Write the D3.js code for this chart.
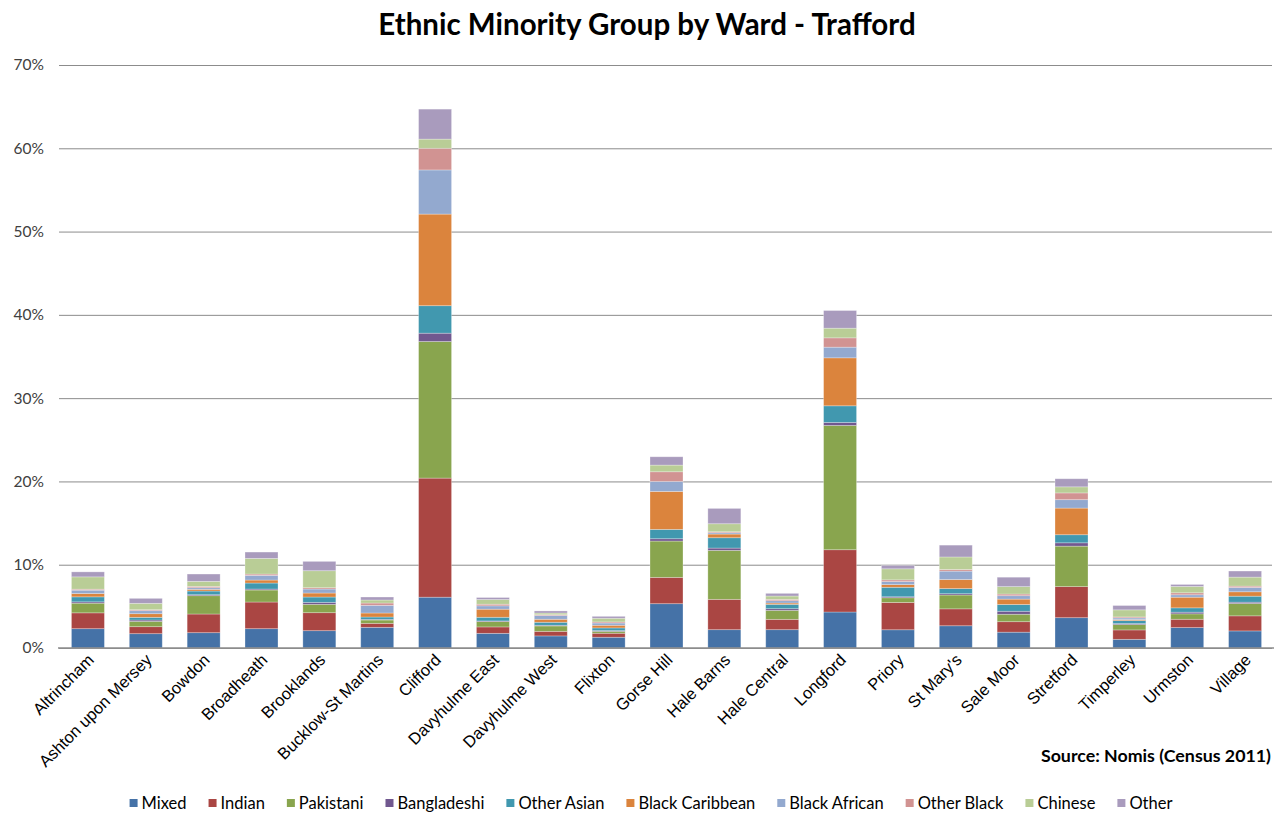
<!DOCTYPE html>
<html>
<head>
<meta charset="utf-8">
<script src="https://cdn.jsdelivr.net/npm/d3@7"></script>
<style>
  html, body { margin: 0; padding: 0; background: #fff; }
  svg { display: block; font-family: Lato, "Open Sans", sans-serif; }
</style>
</head>
<body>
<svg id="chart" width="1274" height="814"></svg>
<script>
// Wards of Trafford
const wards = ["Altrincham", "Ashton upon Mersey", "Bowdon", "Broadheath", "Brooklands",
  "Bucklow-St Martins", "Clifford", "Davyhulme East", "Davyhulme West", "Flixton",
  "Gorse Hill", "Hale Barns", "Hale Central", "Longford", "Priory", "St Mary's",
  "Sale Moor", "Stretford", "Timperley", "Urmston", "Village"];

// Ethnic groups (stack order, bottom to top)
const groups = ["Mixed", "Indian", "Pakistani", "Bangladeshi", "Other Asian",
  "Black Caribbean", "Black African", "Other Black", "Chinese", "Other"];

// Share of ward population (%) for each group, one value per ward
const mixed          = [2.32, 1.72, 1.84, 2.32, 2.08, 2.48, 6.10, 1.76, 1.45, 1.29, 5.32, 2.20, 2.20, 4.32, 2.19, 2.67, 1.90, 3.64, 1.04, 2.45, 2.05];
const indian         = [1.90, 0.84, 2.24, 3.20, 2.16, 0.48, 14.30, 0.77, 0.55, 0.48, 3.16, 3.64, 1.24, 7.48, 3.28, 2.03, 1.26, 3.73, 1.13, 1.00, 1.81];
const pakistani      = [1.16, 0.64, 2.20, 1.44, 1.00, 0.40, 16.40, 0.64, 0.65, 0.23, 4.36, 5.88, 1.08, 14.92, 0.56, 1.66, 0.89, 4.86, 0.64, 0.65, 1.48];
const bangladeshi    = [0.16, 0.16, 0.12, 0.12, 0.24, 0.08, 1.00, 0.08, 0.08, 0.09, 0.28, 0.28, 0.20, 0.36, 0.12, 0.16, 0.36, 0.40, 0.12, 0.20, 0.16];
const otherAsian     = [0.60, 0.32, 0.44, 0.72, 0.64, 0.28, 3.30, 0.44, 0.36, 0.32, 1.12, 1.24, 0.52, 2.00, 1.14, 0.61, 0.81, 0.97, 0.36, 0.52, 0.72];
const blackCaribbean = [0.40, 0.44, 0.20, 0.36, 0.48, 0.48, 11.00, 0.97, 0.36, 0.32, 4.56, 0.44, 0.16, 5.76, 0.32, 1.09, 0.65, 3.20, 0.12, 1.28, 0.53];
const blackAfrican   = [0.40, 0.36, 0.20, 0.56, 0.48, 0.92, 5.30, 0.40, 0.45, 0.27, 1.20, 0.16, 0.28, 1.28, 0.37, 1.01, 0.41, 1.01, 0.20, 0.29, 0.52];
const otherBlack     = [0.12, 0.12, 0.16, 0.16, 0.16, 0.28, 2.60, 0.20, 0.10, 0.13, 1.16, 0.12, 0.16, 1.12, 0.20, 0.20, 0.20, 0.81, 0.12, 0.24, 0.16];
const chinese        = [1.48, 0.76, 0.60, 1.88, 2.04, 0.36, 1.10, 0.56, 0.20, 0.44, 0.80, 0.96, 0.40, 1.16, 1.33, 1.50, 0.89, 0.73, 0.85, 0.76, 1.08];
const other          = [0.60, 0.60, 0.88, 0.76, 1.12, 0.36, 3.60, 0.24, 0.25, 0.23, 1.00, 1.84, 0.32, 2.12, 0.40, 1.42, 1.13, 0.97, 0.52, 0.24, 0.73];

// Y-axis ticks (%)
const yTicks = [0, 10, 20, 30, 40, 50, 60, 70];

const colors = ["#4572A7", "#AA4643", "#89A54E", "#71588F", "#4198AF",
  "#DB843D", "#93A9CF", "#D19392", "#B9CD96", "#A99BBD"];

const seriesValues = [mixed, indian, pakistani, bangladeshi, otherAsian,
  blackCaribbean, blackAfrican, otherBlack, chinese, other];

// Table rows: one per ward, one column per group
const rows = wards.map((w, i) => {
  const r = { ward: w };
  groups.forEach((g, j) => { r[g] = seriesValues[j][i]; });
  return r;
});

const svg = d3.select("#chart");
const plot = { left: 59, right: 1274, top: 65, bottom: 648 };

const x = d3.scaleBand().domain(wards).range([plot.left, plot.right])
  .paddingInner(0.43).paddingOuter(0.215);
const y = d3.scaleLinear().domain([0, 70]).range([plot.bottom, plot.top]);
const color = d3.scaleOrdinal().domain(groups).range(colors);

// Title
svg.append("text")
  .attr("x", 647).attr("y", 35)
  .attr("text-anchor", "middle")
  .attr("font-size", 29.5).attr("font-weight", "bold").attr("fill", "#000")
  .text("Ethnic Minority Group by Ward - Trafford");

// Gridlines and Y labels
const yAxis = svg.append("g")
  .attr("transform", `translate(${plot.left},0)`)
  .call(d3.axisLeft(y).tickValues(yTicks).tickFormat(d => d + "%")
    .tickSize(-(plot.right - plot.left - 2)).tickPadding(15));
yAxis.select(".domain").remove();
yAxis.selectAll(".tick line").attr("stroke", "#8c8c8c").attr("stroke-width", 1);
yAxis.selectAll(".tick text").attr("font-size", 15.5).attr("fill", "#404040")
  .attr("font-family", "Lato, sans-serif");

// Stacked bars
const stacked = d3.stack().keys(groups)(rows);
svg.append("g").selectAll("g")
  .data(stacked).join("g")
  .attr("fill", d => color(d.key))
  .selectAll("rect")
  .data(d => d).join("rect")
  .attr("x", d => x(d.data.ward))
  .attr("width", x.bandwidth())
  .attr("y", d => y(d[1]))
  .attr("height", d => y(d[0]) - y(d[1]))
  .attr("stroke", "rgba(255,255,255,0.35)")
  .attr("stroke-width", 0.8);

// X axis with rotated ward names
const xAxis = svg.append("g")
  .attr("transform", `translate(0,${plot.bottom})`)
  .call(d3.axisBottom(x).tickSize(0).tickPadding(0));
xAxis.select(".domain").attr("stroke", "#8c8c8c").attr("stroke-width", 1.5)
  .attr("d", `M${plot.left - 1},0H${plot.right}`);
xAxis.selectAll(".tick text")
  .attr("font-size", 16.5).attr("fill", "#000")
  .attr("text-anchor", "end")
  .attr("dy", 0)
  .attr("transform", "translate(7,13) rotate(-45)");

// Source note
svg.append("text")
  .attr("x", 1271).attr("y", 762)
  .attr("text-anchor", "end")
  .attr("font-size", 17.8).attr("font-weight", "bold").attr("fill", "#000")
  .text("Source: Nomis (Census 2011)");

// Legend
const legend = svg.append("g");
const items = legend.selectAll("g").data(groups).join("g");
items.append("rect").attr("width", 8).attr("height", 8).attr("y", -10)
  .attr("fill", d => color(d));
items.append("text").attr("x", 12).attr("y", 0)
  .attr("font-size", 16.5).attr("fill", "#000").text(d => d);
let pos = 0;
const gap = 22;
items.each(function () {
  const w = d3.select(this).select("text").node().getComputedTextLength();
  d3.select(this).attr("data-x", pos);
  pos += 12 + w + gap;
});
const total = pos - gap;
const startX = 651 - total / 2;
items.attr("transform", function () {
  return `translate(${startX + (+d3.select(this).attr("data-x"))},809)`;
});
</script>
</body>
</html>
